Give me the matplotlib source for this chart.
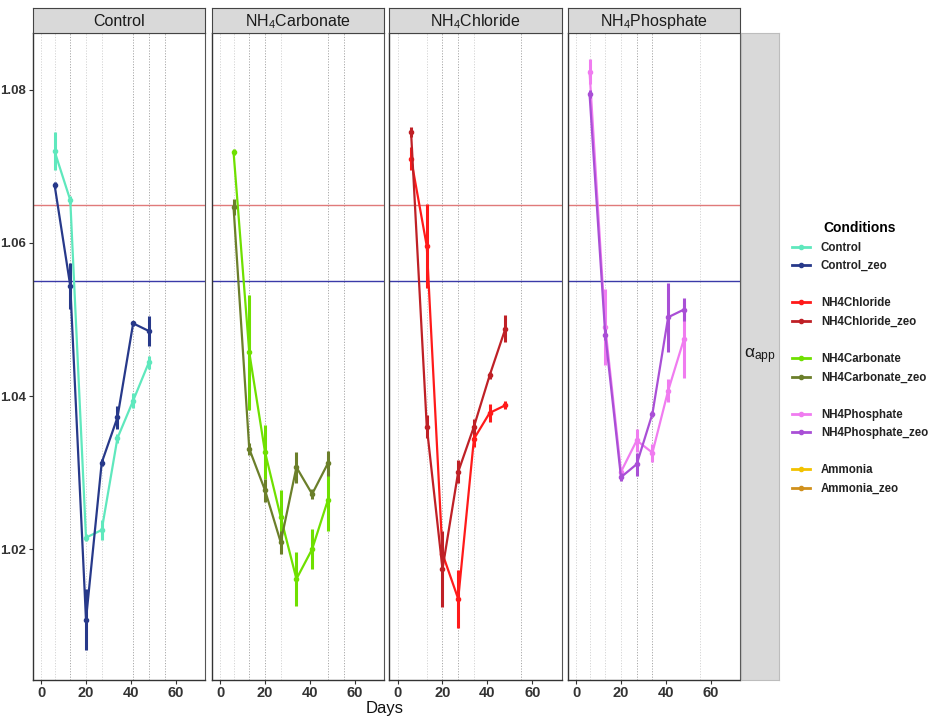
import matplotlib.pyplot as plt
from matplotlib.lines import Line2D

plt.rcParams['font.family'] = ['Liberation Sans', 'DejaVu Sans']
plt.rcParams['mathtext.fontset'] = 'custom'
plt.rcParams['mathtext.rm'] = 'Liberation Sans'
plt.rcParams['mathtext.it'] = 'Liberation Sans'

days = [6, 13, 20, 27, 34, 41, 48]

control = [1.0720, 1.0656, 1.0215, 1.0225, 1.0345, 1.0394, 1.0444]
control_err = [0.0025, 0.0005, 0.0005, 0.0013, 0.0006, 0.0010, 0.0008]
control_zeo = [1.0676, 1.0544, 1.0108, 1.0313, 1.0372, 1.0495, 1.0485]
control_zeo_err = [0.0004, 0.0030, 0.0040, 0.0005, 0.0015, 0.0003, 0.0020]

carbonate = [1.0719, 1.0457, 1.0327, 1.0242, 1.0161, 1.0200, 1.0264]
carbonate_err = [0.0004, 0.0075, 0.0035, 0.0035, 0.0035, 0.0026, 0.0040]
carbonate_zeo = [1.0647, 1.0331, 1.0277, 1.0209, 1.0307, 1.0272, 1.0312]
carbonate_zeo_err = [0.0010, 0.0008, 0.0015, 0.0015, 0.0020, 0.0007, 0.0016]

chloride = [1.0710, 1.0596, 1.0194, 1.0135, 1.0344, 1.0378, 1.0388]
chloride_err = [0.0015, 0.0055, 0.0010, 0.0038, 0.0010, 0.0012, 0.0005]
chloride_zeo = [1.0745, 1.0360, 1.0174, 1.0301, 1.0360, 1.0427, 1.0488]
chloride_zeo_err = [0.0007, 0.0015, 0.0050, 0.0015, 0.0010, 0.0005, 0.0018]

phosphate = [1.0824, 1.0490, 1.0301, 1.0342, 1.0326, 1.0407, 1.0474]
phosphate_err = [0.0016, 0.0050, 0.0005, 0.0015, 0.0012, 0.0015, 0.0050]
phosphate_zeo = [1.0795, 1.0480, 1.0294, 1.0311, 1.0377, 1.0503, 1.0513]
phosphate_zeo_err = [0.0005, 0.0007, 0.0005, 0.0015, 0.0004, 0.0045, 0.0015]

# sampling day guide lines per panel
vlines = {
    'Control': [0, 6, 13, 20, 27, 41, 48, 55],
    'Carbonate': [0, 6, 13, 20, 27, 48, 55],
    'Chloride': [0, 13, 20, 27, 34, 55],
    'Phosphate': [0, 6, 13, 20, 27, 34, 55],
}
dark_vlines = {
    'Control': [13, 41, 48, 55],
    'Carbonate': [13, 20, 48, 55],
    'Chloride': [20, 27, 55],
    'Phosphate': [27, 34],
}

ref_red = 1.065
ref_blue = 1.055

colors = {
    'Control': '#5fe8bd',
    'Control_zeo': '#27398a',
    'NH4Chloride': '#ff1a1a',
    'NH4Chloride_zeo': '#bf2026',
    'NH4Carbonate': '#6fe000',
    'NH4Carbonate_zeo': '#6b7f2a',
    'NH4Phosphate': '#f07cf0',
    'NH4Phosphate_zeo': '#a94fd6',
    'Ammonia': '#f2c200',
    'Ammonia_zeo': '#d0901c',
}

panels = [
    ('Control', 'Control', control, control_err, 'Control_zeo', control_zeo, control_zeo_err),
    ('NH$_4$Carbonate', 'Carbonate', carbonate, carbonate_err, 'NH4Carbonate_zeo', carbonate_zeo, carbonate_zeo_err),
    ('NH$_4$Chloride', 'Chloride', chloride, chloride_err, 'NH4Chloride_zeo', chloride_zeo, chloride_zeo_err),
    ('NH$_4$Phosphate', 'Phosphate', phosphate, phosphate_err, 'NH4Phosphate_zeo', phosphate_zeo, phosphate_zeo_err),
]
base_names = ['Control', 'NH4Carbonate', 'NH4Chloride', 'NH4Phosphate']

W, H = 929, 716
fig = plt.figure(figsize=(W / 100, H / 100), dpi=100)

lefts = [33, 212, 389.5, 568]
pw = 172
top, bottom = 33.3, 680
strip_top = 7.5

for i, (title, key, vals, errs, zname, zvals, zerrs) in enumerate(panels):
    ax = fig.add_axes([lefts[i] / W, 1 - bottom / H, pw / W, (bottom - top) / H])
    for d in vlines[key]:
        c = '#a8a8a8' if d in dark_vlines[key] else '#d4d4d4'
        ax.axvline(d, color=c, ls=(0, (1.2, 1.6)), lw=0.7, zorder=0)
    ax.axhline(ref_red, color='#e07a7a', lw=1.0, zorder=1)
    ax.axhline(ref_blue, color='#3a3aa8', lw=1.0, zorder=1)

    ax.errorbar(days, vals, yerr=errs, color=colors[base_names[i]], lw=1.6,
                elinewidth=2.2, marker='o', ms=3, capsize=0, zorder=3)
    ax.errorbar(days, zvals, yerr=zerrs, color=colors[zname], lw=1.6,
                elinewidth=2.2, marker='o', ms=3, capsize=0, zorder=4)

    ax.set_xlim(-3.6, 73)
    ax.set_ylim(1.0029, 1.0874)
    ax.set_xticks([0, 20, 40, 60])
    ax.set_yticks([1.02, 1.04, 1.06, 1.08])
    ax.tick_params(axis='x', labelsize=10.5, colors='#333333', length=3, width=0.8, pad=1.5)
    ax.tick_params(axis='y', labelsize=9.5, colors='#333333', length=3, width=0.8, pad=2)
    for lab in ax.get_xticklabels() + ax.get_yticklabels():
        lab.set_fontweight('bold')
        lab.set_color('#333333')
    if i > 0:
        ax.tick_params(axis='y', left=False, labelleft=False)
    for s in ['top', 'right']:
        ax.spines[s].set_color('#555555')
        ax.spines[s].set_linewidth(0.8)
    for s in ['left', 'bottom']:
        ax.spines[s].set_color('#333333')
        ax.spines[s].set_linewidth(1.0)

    sax = fig.add_axes([lefts[i] / W, 1 - top / H, pw / W, (top - strip_top) / H])
    sax.set_facecolor('#d9d9d9')
    sax.set_xticks([])
    sax.set_yticks([])
    for s in sax.spines.values():
        s.set_color('#444444')
        s.set_linewidth(0.8)
    sax.text(0.5, 0.45, title, ha='center', va='center', fontsize=11.5, color='#1a1a1a',
             transform=sax.transAxes)

# right strip
rax = fig.add_axes([740.7 / W, 1 - bottom / H, 38.6 / W, (bottom - top) / H])
rax.set_facecolor('#d9d9d9')
rax.set_xticks([])
rax.set_yticks([])
for s in rax.spines.values():
    s.set_color('#bdbdbd')
    s.set_linewidth(0.8)
rax.text(0.5, 0.5, r'$\mathrm{\alpha_{app}}$', ha='center', va='center', fontsize=12.5,
         color='#1a1a1a', transform=rax.transAxes)

fig.text(385 / W, 1 - 708 / H, 'Days', ha='center', va='center', fontsize=12, color='#111111')

# legend with gaps between groups
order = [['Control', 'Control_zeo'], ['NH4Chloride', 'NH4Chloride_zeo'],
         ['NH4Carbonate', 'NH4Carbonate_zeo'], ['NH4Phosphate', 'NH4Phosphate_zeo'],
         ['Ammonia', 'Ammonia_zeo']]
handles, labels = [], []
for gi, grp in enumerate(order):
    if gi > 0:
        handles.append(Line2D([], [], color='none'))
        labels.append(' ')
    for name in grp:
        handles.append(Line2D([], [], color=colors[name], lw=2, marker='o', ms=3))
        labels.append(name)
leg = fig.legend(handles, labels, loc='upper left', bbox_to_anchor=(792 / W, 1 - 221 / H),
                 frameon=False, title='Conditions', fontsize=8.3, handlelength=1.6,
                 handletextpad=0.9, labelspacing=0.57, borderaxespad=0, borderpad=0)
leg.get_title().set_fontweight('bold')
leg.get_title().set_fontsize(10)
for t in leg.get_texts():
    t.set_fontweight('bold')
    t.set_color('#222222')

fig.savefig('out.png', dpi=100)
